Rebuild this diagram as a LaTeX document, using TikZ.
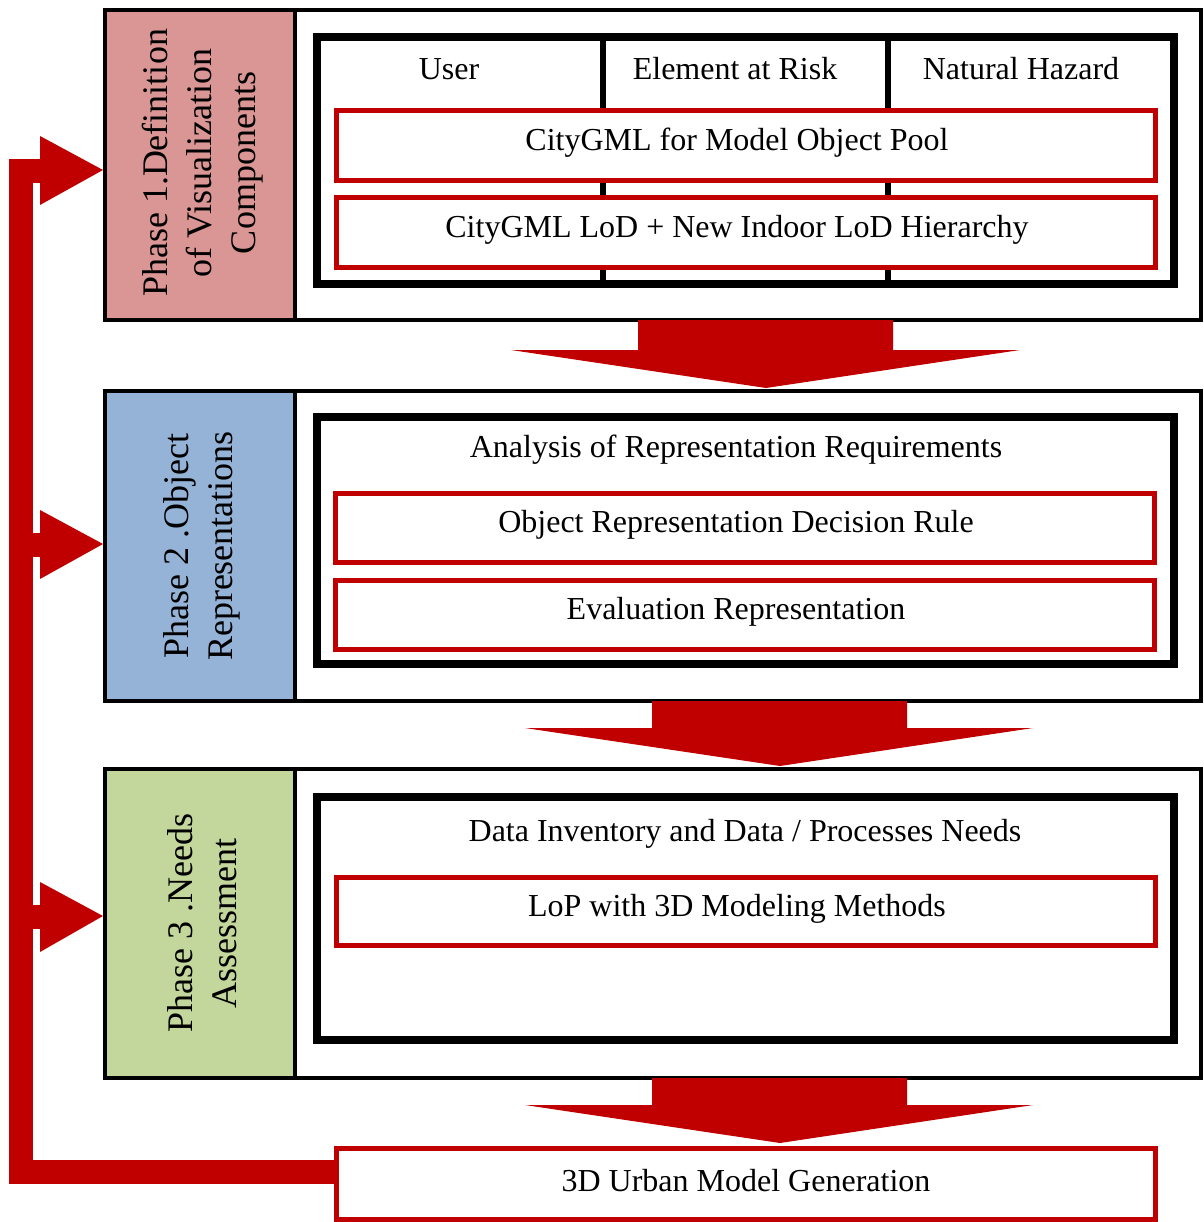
\documentclass[tikz,border=0pt]{standalone}
\usepackage{fontspec}
\setmainfont{Liberation Serif}
\usetikzlibrary{calc}
\definecolor{dred}{RGB}{192,0,0}
\definecolor{phaseA}{RGB}{217,150,148}
\definecolor{phaseB}{RGB}{149,179,215}
\definecolor{phaseC}{RGB}{195,214,155}
\begin{document}
\begin{tikzpicture}[x=1pt,y=-1pt,
  body/.style={draw=black,line width=4pt,fill=white,minimum width=1096pt,inner sep=0pt},
  label/.style={draw=black,line width=4pt,minimum width=190pt,inner sep=0pt},
  labtext/.style={rotate=90,align=center,font=\fontsize{36}{44}\selectfont,inner sep=0pt},
  frame/.style={draw=black,line width=8pt,fill=white,minimum width=857pt,inner sep=0pt},
  redbox/.style={draw=dred,line width=5pt,fill=white,minimum width=819pt,inner sep=0pt},
  txt/.style={font=\fontsize{32}{36}\selectfont,inner sep=0pt},
  boxtxt/.style={txt,yshift=3pt},
  blockarrow/.style={fill=dred},
  feedback/.style={draw=dred,line width=24pt,line join=miter}]
\useasboundingbox (0,0) rectangle (1203,1222);

% ---- Phase 1 ----
\node[body,minimum height=310pt] (b1) at (653,165) {};
\node[label,fill=phaseA,minimum height=310pt] (l1) at (200,165) {};
\node[labtext] (t1) at (203,163) {Phase 1.Definition\\of Visualization\\Components};
\node[frame,minimum height=247pt] (f1) at (745.5,160.5) {};
\draw[line width=6pt] (603,37) -- (603,284);
\draw[line width=6pt] (888,37) -- (888,284);
\node[txt] (u) at (449,69) {User};
\node[txt] (e) at (735,69) {Element at Risk};
\node[txt] (n) at (1021,69) {Natural Hazard};
\node[redbox,minimum height=70pt] (r11) at (746,145.5) {};
\node[boxtxt,xshift=-9pt] at (r11) {CityGML for Model Object Pool};
\node[redbox,minimum height=70pt] (r12) at (746,232.5) {};
\node[boxtxt,xshift=-9pt] at (r12) {CityGML LoD + New Indoor LoD Hierarchy};

% ---- Phase 2 ----
\node[body,minimum height=310pt] (b2) at (653,546) {};
\node[label,fill=phaseB,minimum height=310pt] (l2) at (200,546) {};
\node[labtext] (t2) at (202,546) {Phase 2 .Object\\Representations};
\node[frame,minimum height=247pt] (f2) at (745.5,540.5) {};
\node[txt] (a2) at (736,450) {Analysis of Representation Requirements};
\node[redbox,minimum height=69pt] (r21) at (745,528) {};
\node[boxtxt,xshift=-9pt] at (r21) {Object Representation Decision Rule};
\node[redbox,minimum height=69pt] (r22) at (745,615) {};
\node[boxtxt,xshift=-9pt] at (r22) {Evaluation Representation};

% ---- Phase 3 ----
\node[body,minimum height=309pt] (b3) at (653,923.5) {};
\node[label,fill=phaseC,minimum height=309pt] (l3) at (200,923.5) {};
\node[labtext] (t3) at (202,923) {Phase 3 .Needs\\Assessment};
\node[frame,minimum height=243pt] (f3) at (745.5,918.5) {};
\node[txt] (a3) at (745,834) {Data Inventory and Data / Processes Needs};
\node[redbox,minimum height=68pt] (r31) at (746,911.5) {};
\node[boxtxt,xshift=-9pt] at (r31) {LoP with 3D Modeling Methods};

% ---- Result ----
\node[redbox,minimum height=71pt] (res) at (746,1184) {};
\node[boxtxt] at (res) {3D Urban Model Generation};

% ---- Block arrows between phases ----
\fill[blockarrow] (638,320) -- (893,320) -- (893,350) -- (1020,350) -- (766,388) -- (511,350) -- (638,350) -- cycle;
\fill[blockarrow] (652,701) -- (907,701) -- (907,728) -- (1033,728) -- (780,766) -- (525,728) -- (652,728) -- cycle;
\fill[blockarrow] (652,1078) -- (907,1078) -- (907,1105) -- (1033,1105) -- (780,1143) -- (525,1105) -- (652,1105) -- cycle;

% ---- Feedback loop ----
\coordinate (h1) at (41,171);
\coordinate (h2) at (41,544.5);
\coordinate (h3) at (41,916.5);
\coordinate (h0) at ($(res.west)+(0,-12)$);
\draw[feedback] (h0) -- (21,1172) -- (21,171) -- (h1);
\draw[feedback] (21,544.5) -- (h2);
\draw[feedback] (21,916.5) -- (h3);
\fill[dred] (l1.west |- 0,170) -- (40,136) -- (40,205) -- cycle;
\fill[dred] (l2.west |- 0,544) -- (40,510) -- (40,579) -- cycle;
\fill[dred] (l3.west |- 0,916) -- (40,882) -- (40,952) -- cycle;
\end{tikzpicture}
\end{document}
